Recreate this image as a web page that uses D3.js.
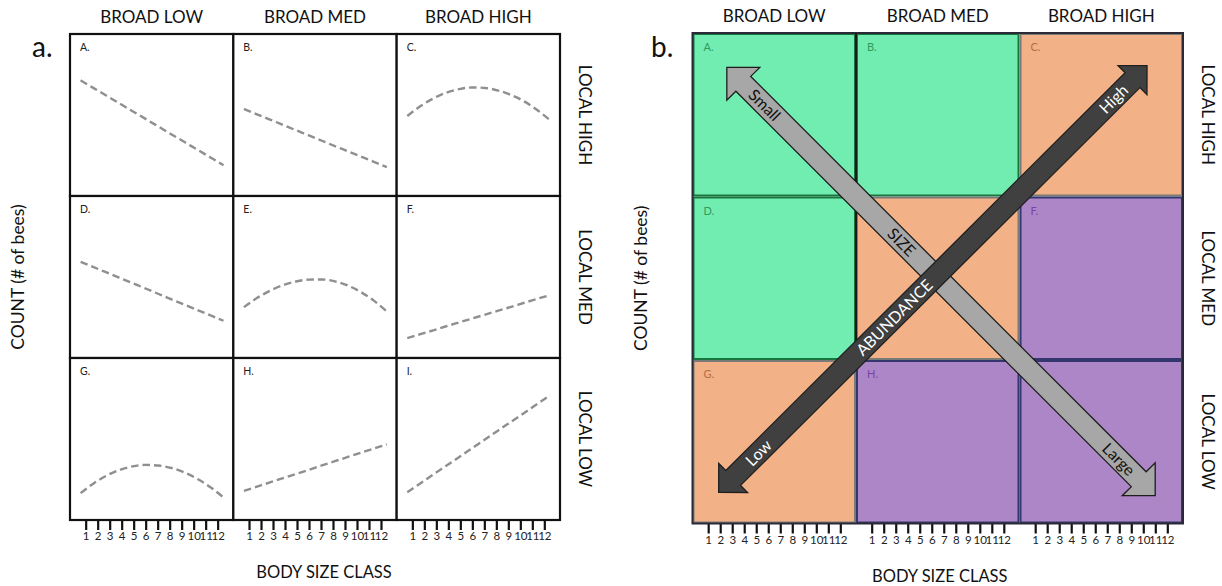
<!DOCTYPE html>
<html>
<head>
<meta charset="utf-8">
<script src="https://cdn.jsdelivr.net/npm/d3@7"></script>
<style>
  html, body { margin: 0; padding: 0; background: #fff; }
  svg { display: block; }
  text { font-family: Lato, "Open Sans", "DejaVu Sans", sans-serif; }
</style>
</head>
<body>
<svg id="chart" width="1222" height="586"></svg>
<script>
// ---------------- DATA ----------------
const broadLevels = ["BROAD LOW", "BROAD MED", "BROAD HIGH"];
const localLevels = ["LOCAL HIGH", "LOCAL MED", "LOCAL LOW"];
const cellLetters = ["A.", "B.", "C.", "D.", "E.", "F.", "G.", "H.", "I."];
const sizeClasses = [1, 2, 3, 4, 5, 6, 7, 8, 9, 10, 11, 12];
const tickLabels = ["1", "2", "3", "4", "5", "6", "7", "8", "9", "10", "11", "12"];

// relative count (% of panel height) per body size class
const countA = [71.4, 66.6, 61.9, 57.1, 52.3, 47.6, 42.8, 38.0, 33.3, 28.5, 23.8, 19.0];
const countB = [53.7, 50.4, 47.2, 43.9, 40.6, 37.4, 34.1, 30.8, 27.6, 24.3, 21.1, 17.8];
const countC = [49.4, 55.4, 60.2, 63.8, 66.0, 67.0, 66.7, 65.1, 62.3, 58.4, 53.1, 46.7];
const countD = [59.4, 56.1, 52.8, 49.5, 46.2, 42.9, 39.5, 36.2, 32.9, 29.6, 26.3, 23.0];
const countE = [31.4, 37.0, 41.5, 44.9, 47.2, 48.4, 48.5, 47.3, 44.7, 40.7, 35.4, 28.7];
const countF = [12.3, 14.7, 17.1, 19.6, 22.0, 24.4, 26.8, 29.2, 31.6, 34.1, 36.5, 38.9];
const countG = [16.6, 22.6, 27.4, 30.9, 33.1, 34.0, 33.6, 32.1, 29.3, 25.3, 20.2, 13.9];
const countH = [18.0, 20.6, 23.2, 25.8, 28.4, 31.0, 33.7, 36.3, 38.9, 41.5, 44.1, 46.7];
const countI = [17.2, 22.6, 28.1, 33.5, 38.9, 44.4, 49.8, 55.3, 60.7, 66.1, 71.6, 77.0];

// panel b: zone category of each cell
const zoneCategory = ["small", "small", "mixed", "small", "mixed", "large", "mixed", "large", "large"];
const zoneLetterShown = [true, true, true, true, false, true, true, true, false];

// panel b arrows, endpoints in grid units (columns, rows)
const sizeArrowFrom = [0.21, 0.21];
const sizeArrowTo = [2.83, 2.83];
const sizeArrowLabels = ["Small", "SIZE", "Large"];
const sizeArrowLabelPos = [0.088, 0.408, 0.915];
const abundanceArrowFrom = [0.16, 2.81];
const abundanceArrowTo = [2.78, 0.20];
const abundanceArrowLabels = ["Low", "ABUNDANCE", "High"];
const abundanceArrowLabelPos = [0.093, 0.41, 0.922];

// ---------------- DRAW ----------------
const counts = [countA, countB, countC, countD, countE, countF, countG, countH, countI];
const svg = d3.select("#chart");

const zoneFill = { small: "#72EDB1", mixed: "#F2B186", large: "#AC86C6" };
const zoneStroke = { small: "#17773f", mixed: "#7a7a78", large: "#34366e" };
const zoneText = { small: "#2f9a5c", mixed: "#b26f43", large: "#7a44a6" };

function panel(opts) {
  const g = svg.append("g");
  const col = d3.scaleBand().domain(broadLevels).range([opts.x0, opts.x1]);
  const row = d3.scaleBand().domain(localLevels).range([opts.y0, opts.y1]);
  const cw = col.bandwidth(), rh = row.bandwidth();

  g.selectAll("text.hdr").data(broadLevels).join("text")
    .attr("class", "hdr")
    .attr("x", d => col(d) + cw / 2).attr("y", opts.y0 - 11)
    .attr("text-anchor", "middle").attr("font-size", 17).attr("fill", "#111")
    .text(d => d);
  g.selectAll("text.rowlab").data(localLevels).join("text")
    .attr("class", "rowlab")
    .attr("transform", d => `translate(${opts.x1 + 19},${row(d) + rh / 2}) rotate(90)`)
    .attr("text-anchor", "middle").attr("font-size", 17).attr("fill", "#111")
    .text(d => d);
  g.append("text").attr("x", opts.tagX).attr("y", 57)
    .attr("font-size", 28).attr("fill", "#111").text(opts.tag);
  g.append("text")
    .attr("transform", `translate(${opts.x0 - 46},${(opts.y0 + opts.y1) / 2}) rotate(-90)`)
    .attr("text-anchor", "middle").attr("font-size", 17.5).attr("fill", "#111")
    .text("COUNT (# of bees)");
  g.append("text").attr("x", (opts.x0 + opts.x1) / 2 + opts.titleShift).attr("y", opts.y1 + 58)
    .attr("text-anchor", "middle").attr("font-size", 16.5).attr("fill", "#111")
    .text("BODY SIZE CLASS");

  broadLevels.forEach(b => {
    const xa = d3.scaleLinear().domain([1, 12])
      .range([col(b) + 0.096 * cw, col(b) + 0.904 * cw]);
    const ax = g.append("g").attr("transform", `translate(0,${opts.y1})`)
      .call(d3.axisBottom(xa).tickValues(sizeClasses).tickSize(10).tickPadding(2)
        .tickFormat((d, i) => tickLabels[i]));
    ax.select(".domain").remove();
    ax.selectAll(".tick line").attr("stroke", "#111").attr("stroke-width", 2.2);
    ax.selectAll(".tick text").attr("font-size", 11.5).attr("fill", "#222")
      .attr("font-family", "'Liberation Sans Narrow', 'DejaVu Sans Condensed', Lato, sans-serif");
  });
  return { g, col, row, cw, rh };
}

// ---------- panel a ----------
const A = panel({ x0: 70, x1: 560, y0: 34, y1: 520, tag: "a.", tagX: 32, titleShift: 9 });
broadLevels.forEach((b, ci) => {
  localLevels.forEach((l, ri) => {
    const i = ri * 3 + ci;
    const x0 = A.col(b), y0 = A.row(l);
    A.g.append("rect").attr("x", x0).attr("y", y0).attr("width", A.cw).attr("height", A.rh)
      .attr("fill", "#fff").attr("stroke", "#111").attr("stroke-width", 2.2);
    A.g.append("text").attr("x", x0 + 10).attr("y", y0 + 17)
      .attr("font-size", 10.5).attr("fill", "#222").text(cellLetters[i]);
    const xs = d3.scaleLinear().domain([1, 12]).range([x0 + 0.065 * A.cw, x0 + 0.94 * A.cw]);
    const ys = d3.scaleLinear().domain([0, 100]).range([y0 + A.rh, y0]);
    const line = d3.line().x((d, k) => xs(sizeClasses[k])).y(d => ys(d)).curve(d3.curveMonotoneX);
    A.g.append("path").attr("d", line(counts[i]))
      .attr("fill", "none").attr("stroke", "#8f8f8f").attr("stroke-width", 2.4)
      .attr("stroke-dasharray", "7.5,4");
  });
});

// ---------- panel b ----------
const B = panel({ x0: 692.5, x1: 1183, y0: 33, y1: 523.5, tag: "b.", tagX: 651, titleShift: 2 });
broadLevels.forEach((b, ci) => {
  localLevels.forEach((l, ri) => {
    const i = ri * 3 + ci;
    const x0 = B.col(b), y0 = B.row(l);
    const z = zoneCategory[i];
    B.g.append("rect").attr("x", x0 + 1).attr("y", y0 + 1).attr("width", B.cw - 2).attr("height", B.rh - 2)
      .attr("fill", zoneFill[z]).attr("stroke", zoneStroke[z]).attr("stroke-width", 2);
    if (zoneLetterShown[i]) {
      B.g.append("text").attr("x", x0 + 11).attr("y", y0 + 18)
        .attr("font-size", 11).attr("fill", zoneText[z]).text(cellLetters[i]);
    }
  });
});
B.g.append("rect").attr("x", 692.5).attr("y", 33).attr("width", 490.5).attr("height", 490.5)
  .attr("fill", "none").attr("stroke", "#2a2a36").attr("stroke-width", 2);
B.g.append("line").attr("x1", B.col("BROAD MED")).attr("x2", B.col("BROAD MED"))
  .attr("y1", 33).attr("y2", B.row("LOCAL LOW"))
  .attr("stroke", "#1a1a1a").attr("stroke-width", 2);

const gx = d3.scaleLinear().domain([0, 3]).range([692.5, 1183]);
const gy = d3.scaleLinear().domain([0, 3]).range([33, 523.5]);

function drawArrow(from, to, opt, labels, labelPos) {
  const x1 = gx(from[0]), y1 = gy(from[1]), x2 = gx(to[0]), y2 = gy(to[1]);
  const L = Math.hypot(x2 - x1, y2 - y1);
  const ang = Math.atan2(y2 - y1, x2 - x1) * 180 / Math.PI;
  const sw = opt.shaft, hw = opt.head, hl = opt.head;
  const pts = [[0, 0], [hl, -hw], [hl, -sw], [L - hl, -sw], [L - hl, -hw], [L, 0],
               [L - hl, hw], [L - hl, sw], [hl, sw], [hl, hw]];
  const g = svg.append("g").attr("transform", `translate(${x1},${y1}) rotate(${ang})`);
  g.append("polygon").attr("points", pts.map(p => p.join(",")).join(" "))
    .attr("fill", opt.fill).attr("stroke", opt.stroke).attr("stroke-width", 1.3)
    .attr("stroke-linejoin", "miter");
  g.selectAll("text").data(labels).join("text")
    .attr("x", (d, i) => labelPos[i] * L).attr("y", 0)
    .attr("dy", "0.36em").attr("text-anchor", "middle")
    .attr("font-size", 16).attr("fill", opt.text)
    .attr("font-family", "'Open Sans', Lato, sans-serif")
    .text(d => d);
}
drawArrow(sizeArrowFrom, sizeArrowTo,
  { shaft: 10.5, head: 23.3, fill: "#a7a7a7", stroke: "#1d1d1d", text: "#111" },
  sizeArrowLabels, sizeArrowLabelPos);
drawArrow(abundanceArrowFrom, abundanceArrowTo,
  { shaft: 10.5, head: 20.5, fill: "#404040", stroke: "#202020", text: "#ffffff" },
  abundanceArrowLabels, abundanceArrowLabelPos);
</script>
</body>
</html>
